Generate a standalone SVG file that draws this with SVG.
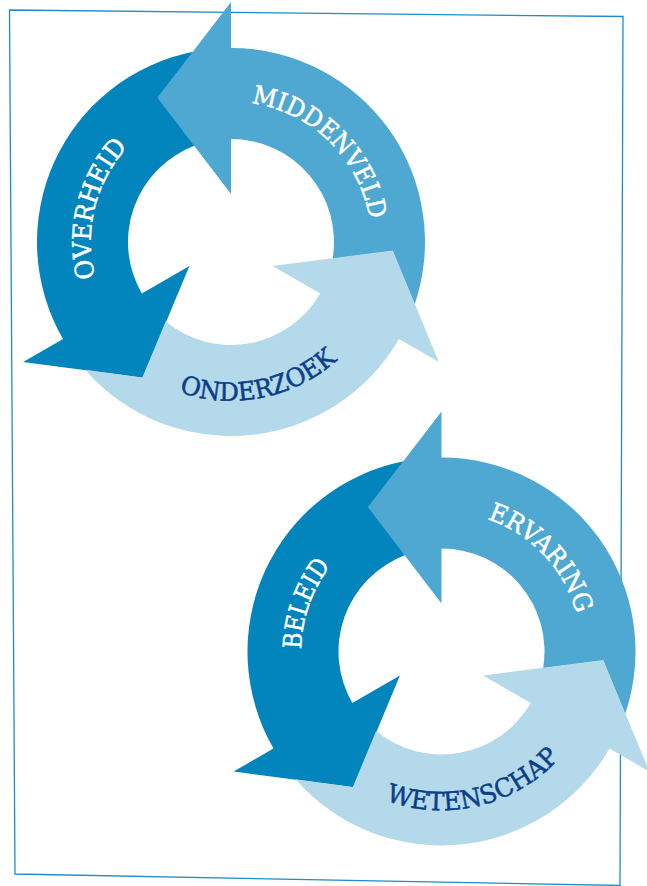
<svg xmlns="http://www.w3.org/2000/svg" xmlns:xlink="http://www.w3.org/1999/xlink" width="647" height="886" viewBox="0 0 647 886">
<style>
.dark{fill:#0284bc}
.mid{fill:#4fa8d1}
.light{fill:#b3d9ea}
.lbl{font-family:"DejaVu Serif","Liberation Serif",serif;font-size:25.5px;text-anchor:middle;stroke-width:0.5px}
.w{fill:#ffffff;stroke:#ffffff}
.n{fill:#0b3e87;stroke:#0b3e87}
.frame{fill:none;stroke:#1f8cc5;stroke-width:1.3}
</style>
<defs>
<path id="arrow" d="M 183.66 62.50 A 194 194 0 0 0 0 -194 L 0 -240 L -73.55 -144.34 L 0 -48 L 0 -103 A 103 103 0 0 1 101.62 16.82 L 161.62 9.06 Z"/>
<path id="p-middenveld" d="M -91.05 -106.61 A 140.2 140.2 0 0 1 108.18 89.18" fill="none"/>
<path id="p-overheid" d="M -45.65 132.56 A 140.2 140.2 0 0 1 21.93 -138.48" fill="none"/>
<path id="p-onderzoek" d="M -152.26 45.10 A 158.8 158.8 0 0 0 157.78 -17.98" fill="none"/>
<path id="p-ervaring" d="M -86.80 -110.10 A 140.2 140.2 0 0 1 104.60 93.36" fill="none"/>
<path id="p-beleid" d="M -57.69 127.78 A 140.2 140.2 0 0 1 34.63 -135.85" fill="none"/>
<path id="p-wetenschap" d="M -150.37 51.04 A 158.8 158.8 0 0 0 156.96 -24.15" fill="none"/>
</defs>
<polygon class="frame" points="9.5,10 623,16.5 620,885.5 15,874"/>
<g id="cycle-top" transform="translate(231,242)">
  <g id="overheid">
    <use href="#arrow" xlink:href="#arrow" class="dark" transform="rotate(-120)"/>
    <text class="lbl w"><textPath href="#p-overheid" xlink:href="#p-overheid" startOffset="50%" textLength="140.5" lengthAdjust="spacingAndGlyphs">OVERHEID</textPath></text>
  </g>
  <g id="middenveld">
    <use href="#arrow" xlink:href="#arrow" class="mid"/>
    <text class="lbl w"><textPath href="#p-middenveld" xlink:href="#p-middenveld" startOffset="50%" textLength="177.4" lengthAdjust="spacingAndGlyphs">MIDDENVELD</textPath></text>
  </g>
  <g id="onderzoek">
    <use href="#arrow" xlink:href="#arrow" class="light" transform="rotate(120)"/>
    <text class="lbl n"><textPath href="#p-onderzoek" xlink:href="#p-onderzoek" startOffset="50%" textLength="169.6" lengthAdjust="spacingAndGlyphs">ONDERZOEK</textPath></text>
  </g>
</g>
<g id="cycle-bottom" transform="translate(441.5,651.5)">
  <g id="beleid">
    <use href="#arrow" xlink:href="#arrow" class="dark" transform="rotate(-120)"/>
    <text class="lbl w"><textPath href="#p-beleid" xlink:href="#p-beleid" startOffset="50%" textLength="90" lengthAdjust="spacingAndGlyphs">BELEID</textPath></text>
  </g>
  <g id="ervaring">
    <use href="#arrow" xlink:href="#arrow" class="mid"/>
    <text class="lbl w"><textPath href="#p-ervaring" xlink:href="#p-ervaring" startOffset="50%" textLength="135.8" lengthAdjust="spacingAndGlyphs">ERVARING</textPath></text>
  </g>
  <g id="wetenschap">
    <use href="#arrow" xlink:href="#arrow" class="light" transform="rotate(120)"/>
    <text class="lbl n"><textPath href="#p-wetenschap" xlink:href="#p-wetenschap" startOffset="50%" textLength="190.4" lengthAdjust="spacingAndGlyphs">WETENSCHAP</textPath></text>
  </g>
</g>
</svg>
